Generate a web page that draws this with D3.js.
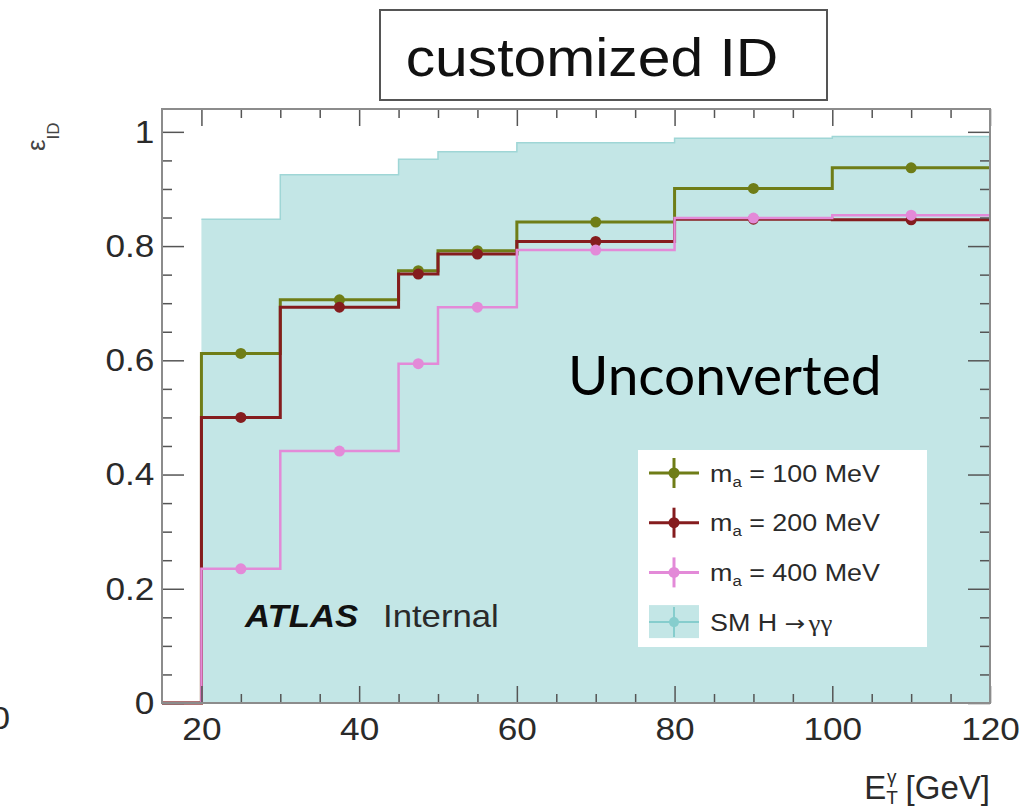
<!DOCTYPE html>
<html>
<head>
<meta charset="utf-8">
<script src="https://cdn.jsdelivr.net/npm/d3@7"></script>
<style>
	body { margin: 0; background: #fff; }
	svg { display: block; }
</style>
</head>
<body>
<div id="chart"></div>
<script>

// Data
//---------
var binEdges = [15, 20, 30, 45, 50, 60, 80, 100, 120];
var effSM    = [0, 0.847, 0.925, 0.952, 0.965, 0.981, 0.989, 0.992];
var eff100   = [0, 0.612, 0.706, 0.757, 0.792, 0.842, 0.901, 0.937];
var eff200   = [0, 0.500, 0.693, 0.751, 0.786, 0.808, 0.847, 0.846];
var eff400   = [0, 0.235, 0.441, 0.594, 0.693, 0.793, 0.849, 0.854];
var massLabels = ["100 MeV", "200 MeV", "400 MeV"];
var xTicks = [20, 40, 60, 80, 100, 120];
var yTicks = [0, 0.2, 0.4, 0.6, 0.8, 1];

var series = [
	{ vals: eff100, color: "#6f7d17", width: 3 },
	{ vals: eff200, color: "#851c1e", width: 3 },
	{ vals: eff400, color: "#e38ad8", width: 2.5 }
];

var tealFill = "#c3e6e6";
var tealLine = "#9fd6d6";
var tealMark = "#86cdcd";
var font = "'Liberation Sans', Arial, Helvetica, sans-serif";

// Setup
//---------
var W = 1023, H = 810;
var frame = { left: 162, right: 990, top: 109, bottom: 703 };

var svg = d3.select("#chart").append("svg")
	.attr("width", W)
	.attr("height", H);

var x = d3.scaleLinear().domain([15, 120]).range([frame.left, frame.right]);
var y = d3.scaleLinear().domain([0, 1.04]).range([frame.bottom, frame.top]);

//-- histogram as step points (last edge repeats last value)
function stepPoints(vals) {
	return binEdges.map(function(e, i) { return [e, vals[Math.min(i, vals.length - 1)]]; });
}
function binCenters(vals) {
	return vals.map(function(v, i) { return { c: (binEdges[i] + binEdges[i + 1]) / 2, v: v }; })
		.filter(function(d) { return d.v > 0; });
}

var stepLine = d3.line().curve(d3.curveStepAfter)
	.x(function(d) { return x(d[0]); })
	.y(function(d) { return y(d[1]); });

var stepArea = d3.area().curve(d3.curveStepAfter)
	.x(function(d) { return x(d[0]); })
	.y0(y(0))
	.y1(function(d) { return y(d[1]); });

// SM filled histogram
//---------
var smPts = stepPoints(effSM).slice(1);
svg.append("path").datum(smPts)
	.attr("d", stepArea)
	.attr("fill", tealFill);
svg.append("path").datum(smPts)
	.attr("d", stepLine)
	.attr("fill", "none")
	.attr("stroke", tealLine)
	.attr("stroke-width", 1.5);

// Signal histograms
//---------
series.forEach(function(s) {
	svg.append("path").datum(stepPoints(s.vals))
		.attr("d", stepLine)
		.attr("fill", "none")
		.attr("stroke", s.color)
		.attr("stroke-width", s.width);

	svg.append("g").selectAll("circle")
		.data(binCenters(s.vals))
		.join("circle")
		.attr("cx", function(d) { return x(d.c); })
		.attr("cy", function(d) { return y(d.v); })
		.attr("r", 5.5)
		.attr("fill", s.color);
});

// Axes
//---------
var xMinor = d3.range(20, 120, 5).filter(function(v) { return xTicks.indexOf(v) < 0; });
var yMinor = d3.range(1, 21).filter(function(i) { return i % 4 !== 0; }).map(function(i) { return i * 0.05; });

function styleAxis(g) {
	g.select(".domain").remove();
	g.selectAll(".tick line").attr("stroke", "#555").attr("stroke-width", 1.5);
	g.selectAll(".tick text")
		.attr("font-family", font)
		.attr("font-size", 32)
		.attr("fill", "#2a2a2a")
		.attr("transform", "scale(1.1,1)");
}

//-- bottom
svg.append("g").attr("transform", "translate(0," + frame.bottom + ")")
	.call(d3.axisBottom(x).tickValues(xTicks).tickSizeInner(-17).tickSizeOuter(0).tickPadding(14).tickFormat(d3.format("d")))
	.call(styleAxis);
svg.append("g").attr("transform", "translate(0," + frame.bottom + ")")
	.call(d3.axisBottom(x).tickValues(xMinor).tickSizeInner(-9).tickSizeOuter(0).tickFormat(""))
	.call(styleAxis);

//-- top
svg.append("g").attr("transform", "translate(0," + frame.top + ")")
	.call(d3.axisTop(x).tickValues(xTicks).tickSizeInner(-17).tickSizeOuter(0).tickFormat(""))
	.call(styleAxis);
svg.append("g").attr("transform", "translate(0," + frame.top + ")")
	.call(d3.axisTop(x).tickValues(xMinor).tickSizeInner(-9).tickSizeOuter(0).tickFormat(""))
	.call(styleAxis);

//-- left
svg.append("g").attr("transform", "translate(" + frame.left + ",0)")
	.call(d3.axisLeft(y).tickValues(yTicks).tickSizeInner(-22).tickSizeOuter(0).tickPadding(7).tickFormat(d3.format("~g")))
	.call(styleAxis);
svg.append("g").attr("transform", "translate(" + frame.left + ",0)")
	.call(d3.axisLeft(y).tickValues(yMinor).tickSizeInner(-10).tickSizeOuter(0).tickFormat(""))
	.call(styleAxis);

//-- right
svg.append("g").attr("transform", "translate(" + frame.right + ",0)")
	.call(d3.axisRight(y).tickValues(yTicks).tickSizeInner(-22).tickSizeOuter(0).tickFormat(""))
	.call(styleAxis);
svg.append("g").attr("transform", "translate(" + frame.right + ",0)")
	.call(d3.axisRight(y).tickValues(yMinor).tickSizeInner(-10).tickSizeOuter(0).tickFormat(""))
	.call(styleAxis);

//-- frame
svg.append("rect")
	.attr("x", frame.left).attr("y", frame.top)
	.attr("width", frame.right - frame.left)
	.attr("height", frame.bottom - frame.top)
	.attr("fill", "none")
	.attr("stroke", "#8c8c8c")
	.attr("stroke-width", 2);

// Texts
//---------
function textAt(px, py, sx) {
	return svg.append("text")
		.attr("transform", "translate(" + px + "," + py + ") scale(" + sx + ",1)")
		.attr("font-family", font);
}

//-- stray label from neighbouring panel (cut by the image edge in the reference)
textAt(10, 729, 1.1).attr("text-anchor", "end").attr("font-size", 32).attr("fill", "#2a2a2a").text("0");

//-- y title
var yt = svg.append("text")
	.attr("transform", "translate(45,151) rotate(-90)")
	.attr("font-family", font)
	.attr("fill", "#444");
yt.append("tspan").attr("font-size", 26).text("ε");
yt.append("tspan").attr("font-size", 17).attr("dy", 14).text("ID");

//-- x title
var xt = svg.append("text")
	.attr("x", 990).attr("y", 799)
	.attr("text-anchor", "end")
	.attr("font-family", font)
	.attr("font-size", 33)
	.attr("fill", "#2a2a2a");
xt.append("tspan").text("E");
xt.append("tspan").attr("font-size", 19).attr("dy", 5).text("T");
xt.append("tspan").attr("font-size", 19).attr("dx", -11).attr("dy", -21).text("γ");
xt.append("tspan").attr("dy", 16).text(" [GeV]");

//-- title box
svg.append("rect")
	.attr("x", 380).attr("y", 10)
	.attr("width", 447).attr("height", 90)
	.attr("fill", "#fff")
	.attr("stroke", "#555")
	.attr("stroke-width", 2);
textAt(592, 76, 1.11).attr("text-anchor", "middle").attr("font-size", 53).attr("fill", "#111").text("customized ID");

//-- Unconverted
svg.append("text")
	.attr("x", 568).attr("y", 395)
	.attr("font-family", "Lato, 'Open Sans', sans-serif")
	.attr("font-size", 55)
	.attr("fill", "#000")
	.text("Unconverted");

//-- ATLAS Internal
textAt(245, 627, 1.12).attr("font-size", 31).attr("font-weight", "bold").attr("font-style", "italic").attr("fill", "#111").text("ATLAS");
textAt(383, 627, 1.12).attr("font-size", 31).attr("fill", "#2a2a2a").text("Internal");

// Legend
//---------
var leg = svg.append("g");
leg.append("rect")
	.attr("x", 638).attr("y", 450)
	.attr("width", 289).attr("height", 197)
	.attr("fill", "#fff");

function rowY(i) { return 473 + i * 49.7; }

series.forEach(function(s, i) {
	var ry = rowY(i);
	leg.append("line").attr("x1", 649).attr("x2", 699).attr("y1", ry).attr("y2", ry)
		.attr("stroke", s.color).attr("stroke-width", 3);
	leg.append("line").attr("x1", 674).attr("x2", 674).attr("y1", ry - 15).attr("y2", ry + 15)
		.attr("stroke", s.color).attr("stroke-width", 3);
	leg.append("circle").attr("cx", 674).attr("cy", ry).attr("r", 5.5).attr("fill", s.color);

	var t = textAt(710, ry + 8.5, 1.12).attr("font-size", 24).attr("fill", "#2a2a2a");
	t.append("tspan").text("m");
	t.append("tspan").attr("font-size", 15).attr("dy", 5).text("a");
	t.append("tspan").attr("dy", -5).text(" = " + massLabels[i]);
});

var smY = rowY(3);
leg.append("rect").attr("x", 649).attr("y", smY - 17).attr("width", 50).attr("height", 33).attr("fill", tealFill);
leg.append("line").attr("x1", 649).attr("x2", 699).attr("y1", smY).attr("y2", smY)
	.attr("stroke", tealMark).attr("stroke-width", 2);
leg.append("line").attr("x1", 674).attr("x2", 674).attr("y1", smY - 15).attr("y2", smY + 15)
	.attr("stroke", tealMark).attr("stroke-width", 2);
leg.append("circle").attr("cx", 674).attr("cy", smY).attr("r", 5).attr("fill", tealMark);
var smText = textAt(710, smY + 8.5, 1.12).attr("font-size", 24).attr("fill", "#2a2a2a");
smText.append("tspan").text("SM H ");
smText.append("tspan").attr("font-family", "'DejaVu Sans', sans-serif").attr("font-size", 22).text("→");
smText.append("tspan").attr("font-family", "'Liberation Serif', serif").attr("dx", 3).text("γγ");

</script>
</body>
</html>
